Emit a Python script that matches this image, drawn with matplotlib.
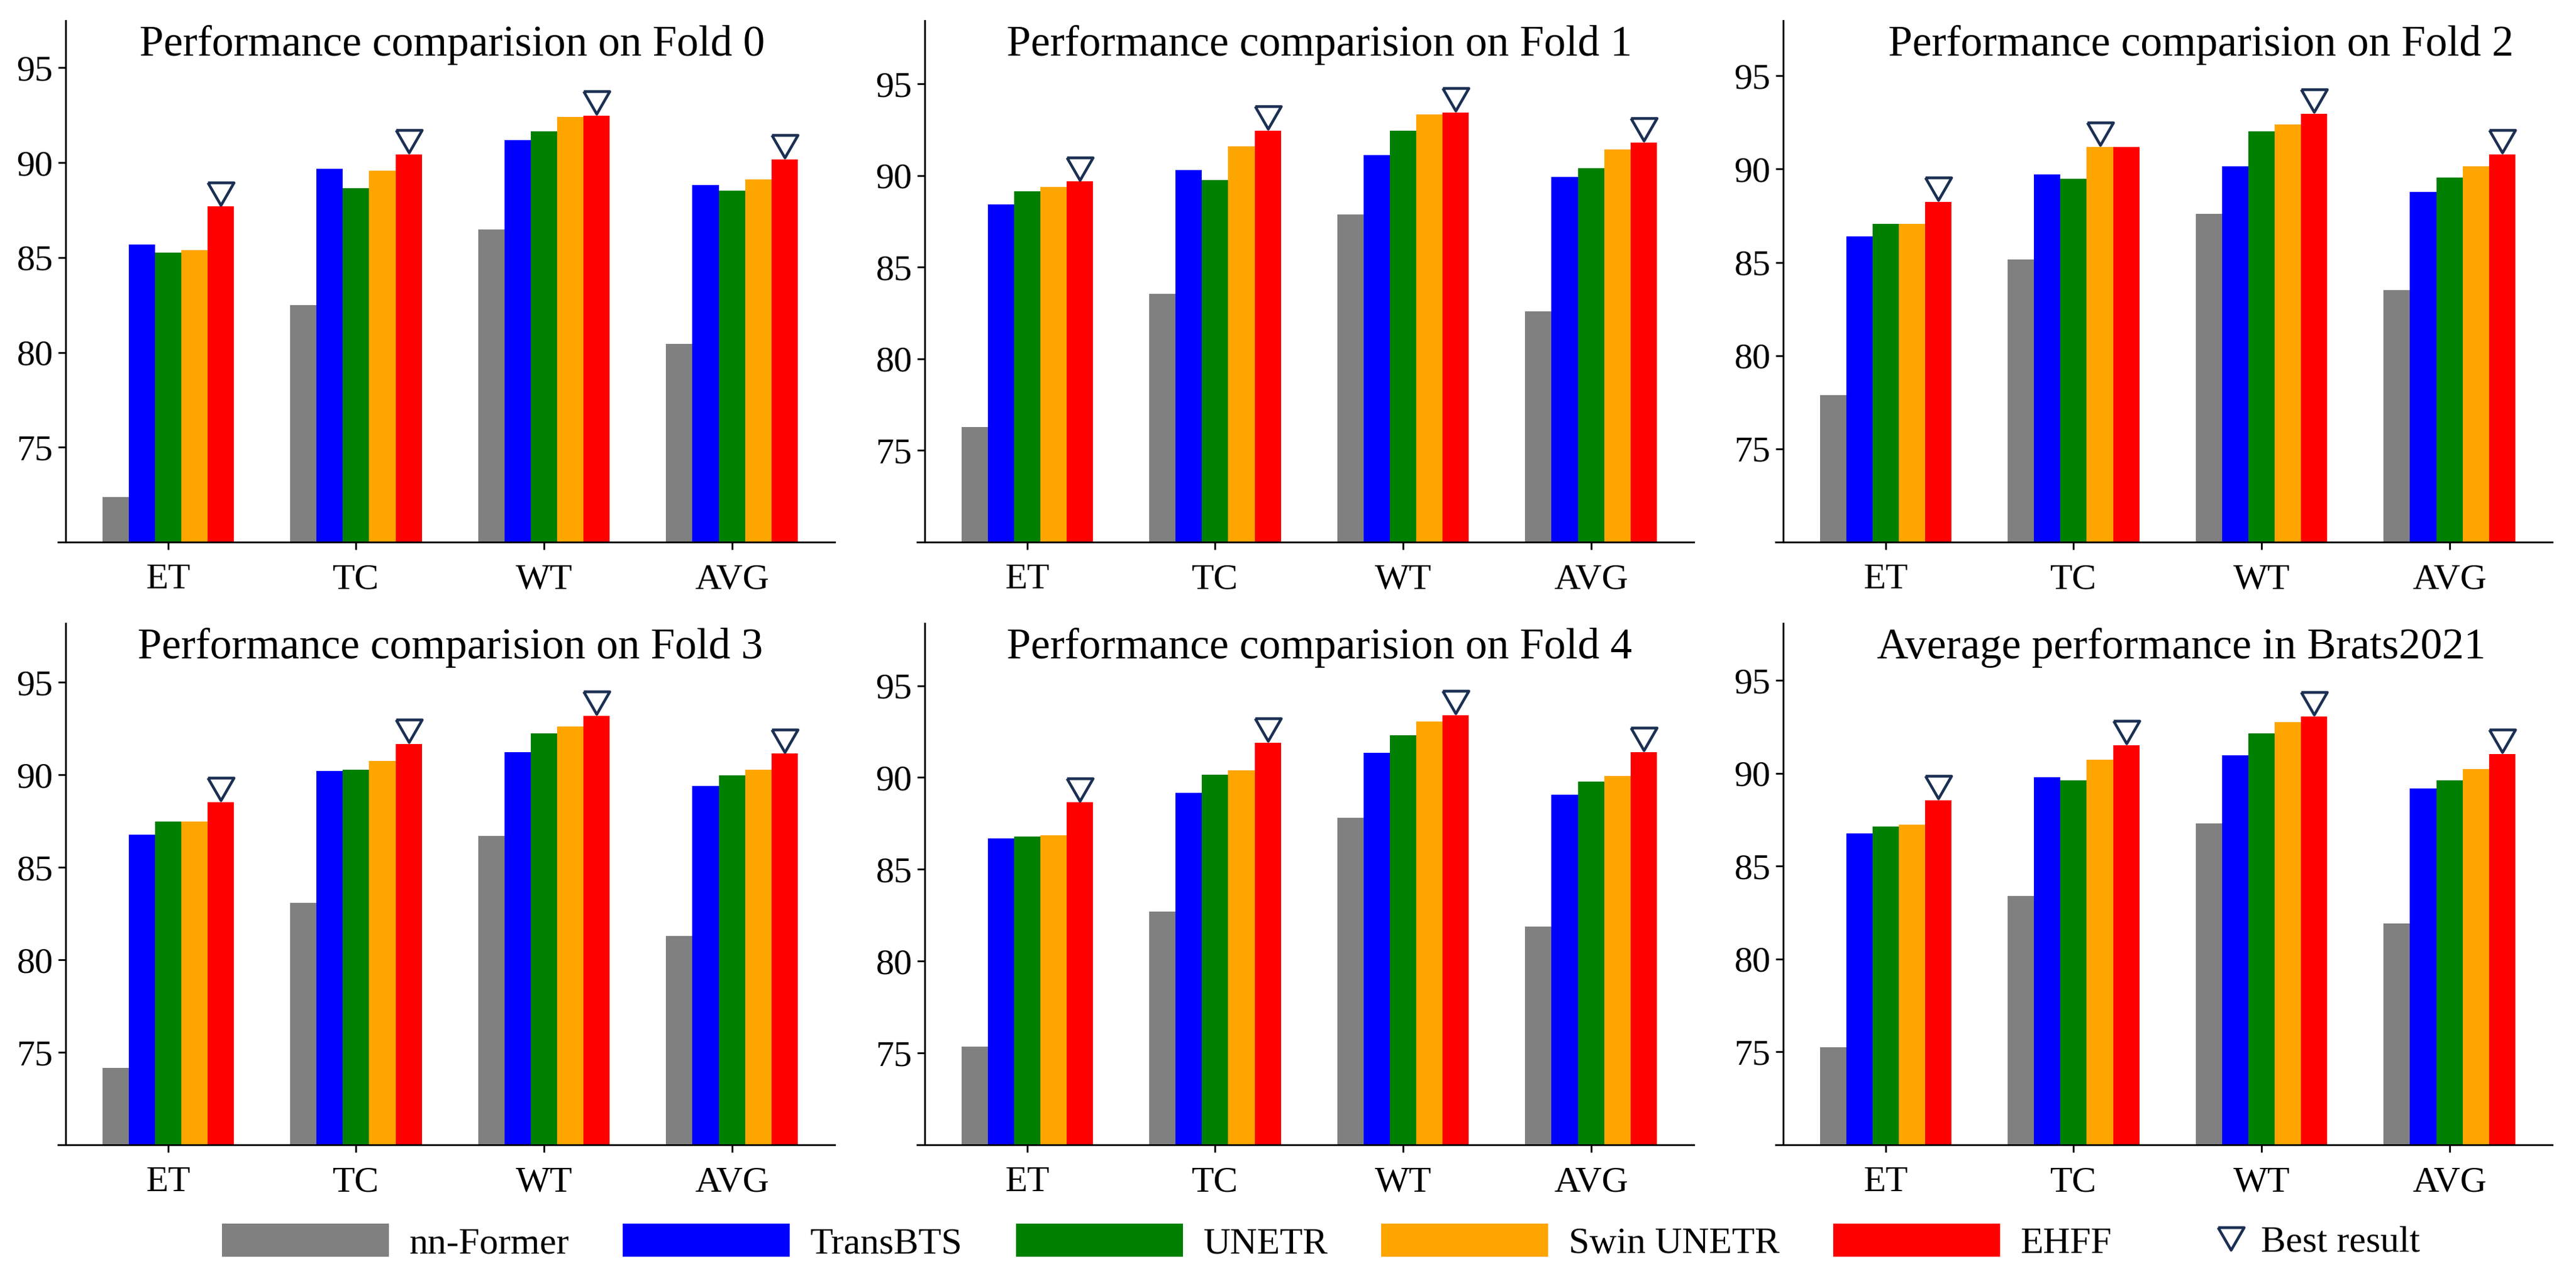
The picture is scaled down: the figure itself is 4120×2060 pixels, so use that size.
import matplotlib
matplotlib.use("Agg")
import matplotlib.pyplot as plt
import matplotlib.transforms as mtransforms
from matplotlib.patches import Patch
from matplotlib.lines import Line2D

plt.rcParams['font.family'] = ['Liberation Serif', 'DejaVu Serif']

# ---------------- data ----------------
categories = ["ET", "TC", "WT", "AVG"]
methods = ["nn-Former", "TransBTS", "UNETR", "Swin UNETR", "EHFF"]
colors = ["#808080", "#0000ff", "#008000", "#ffa500", "#ff0000"]

titles = ["Performance comparision on Fold 0",
          "Performance comparision on Fold 1",
          "Performance comparision on Fold 2",
          "Performance comparision on Fold 3",
          "Performance comparision on Fold 4",
          "Average performance in Brats2021"]

# values per panel: rows = methods, columns = categories
fold0 = [[72.36, 82.50, 86.46, 80.44],
         [85.68, 89.66, 91.18, 88.80],
         [85.24, 88.66, 91.64, 88.52],
         [85.40, 89.56, 92.40, 89.12],
         [87.68, 90.42, 92.48, 90.18]]
fold1 = [[76.28, 83.53, 87.87, 82.60],
         [88.43, 90.31, 91.10, 89.92],
         [89.13, 89.75, 92.46, 90.41],
         [89.36, 91.59, 93.33, 91.43],
         [89.67, 92.46, 93.45, 91.80]]
fold2 = [[77.89, 85.15, 87.60, 83.51],
         [86.39, 89.70, 90.16, 88.78],
         [87.06, 89.47, 92.03, 89.55],
         [87.06, 91.18, 92.41, 90.16],
         [88.24, 91.18, 92.96, 90.79]]
fold3 = [[74.15, 83.06, 86.68, 81.27],
         [86.75, 90.21, 91.21, 89.40],
         [87.46, 90.27, 92.22, 89.97],
         [87.46, 90.76, 92.61, 90.27],
         [88.53, 91.67, 93.18, 91.14]]
fold4 = [[75.35, 82.70, 87.79, 81.89],
         [86.68, 89.15, 91.34, 89.06],
         [86.77, 90.16, 92.30, 89.77],
         [86.84, 90.39, 93.06, 90.09],
         [88.64, 91.89, 93.39, 91.38]]
average = [[75.25, 83.41, 87.31, 81.93],
           [86.76, 89.79, 90.96, 89.18],
           [87.15, 89.63, 92.14, 89.63],
           [87.24, 90.73, 92.76, 90.25],
           [88.56, 91.53, 93.08, 91.05]]
panels = [fold0, fold1, fold2, fold3, fold4, average]
yticks = [75, 80, 85, 90, 95]

# ---------------- layout ----------------
W, H = 4120, 2060
fig = plt.figure(figsize=(W / 100, H / 100), dpi=100)

col_left = [93, 1467, 2840]
ax_w = 1242
row_top = [33, 997]
ax_h = 834
title_x = [0.507, 0.518, 0.548, 0.505, 0.518, 0.522]

bar_w = 0.14
best_color = "#1b2f52"
tri = [(-1, 0.866), (1, 0.866), (0, -0.866), (-1, 0.866)]
ms = 30

for k, vals in enumerate(panels):
    r, c = divmod(k, 3)
    left = col_left[c] / W
    bottom = (H - row_top[r] - ax_h) / H
    ax = fig.add_axes([left, bottom, ax_w / W, ax_h / H])
    n = len(methods)
    for j in range(n):
        xs = [i + (j - (n - 1) / 2) * bar_w for i in range(len(categories))]
        ax.bar(xs, vals[j], width=bar_w, bottom=0, color=colors[j],
               edgecolor='none', zorder=2)
    # best result markers
    best = []
    bx = []
    for i in range(len(categories)):
        col = [vals[j][i] for j in range(n)]
        jb = max(range(n), key=lambda q: col[q])
        best.append(col[jb])
        bx.append(i + (jb - (n - 1) / 2) * bar_w)
    trans = mtransforms.offset_copy(ax.transData, fig=fig, x=0, y=15, units='points')
    ax.plot(bx, best, linestyle='none', marker=tri, markersize=ms,
            markerfacecolor='none', markeredgecolor=best_color,
            markeredgewidth=3.2, transform=trans, zorder=3, clip_on=False)

    allmax = max(max(v) for v in vals)
    ax.set_ylim(70, allmax + 5)
    ax.set_xlim(-0.585, 3.547)
    ax.set_yticks(yticks)
    ax.set_yticklabels([str(t) for t in yticks])
    ax.set_xticks(range(len(categories)))
    ax.set_xticklabels(categories)
    for s in ['top', 'right']:
        ax.spines[s].set_visible(False)
    ax.spines['left'].set_position(('axes', 12 / ax_w))
    ax.spines['left'].set_linewidth(2.0)
    ax.spines['bottom'].set_linewidth(2.0)
    ax.tick_params(axis='both', which='major', labelsize=42, width=2.0,
                   length=8.5, direction='out')
    ax.tick_params(axis='x', pad=16)
    ax.tick_params(axis='y', pad=6)
    ax.set_title(titles[k], fontsize=50, x=title_x[k], y=1 - 56 / ax_h,
                 pad=0, va='baseline')

# ---------------- legends ----------------
handles = [Patch(facecolor=colors[j], edgecolor='none', label=methods[j])
           for j in range(len(methods))]
leg1 = fig.legend(handles=handles, loc='center left',
                  bbox_to_anchor=(355 / W, (H - 1987) / H),
                  ncol=5, frameon=False, fontsize=43,
                  handlelength=4.47, handleheight=1.0, handletextpad=0.55,
                  columnspacing=1.43, borderpad=0, borderaxespad=0)
best_handle = Line2D([], [], linestyle='none', marker=tri, markersize=ms,
                     markerfacecolor='none', markeredgecolor=best_color,
                     markeredgewidth=3.2, label='Best result')
leg2 = fig.legend(handles=[best_handle], loc='center left',
                  bbox_to_anchor=(3544 / W, (H - 1987) / H),
                  frameon=False, fontsize=43, handlelength=0.8,
                  handletextpad=0.4, borderpad=0, borderaxespad=0,
                  numpoints=1)

fig.savefig("out.png", dpi=100, facecolor='white')
